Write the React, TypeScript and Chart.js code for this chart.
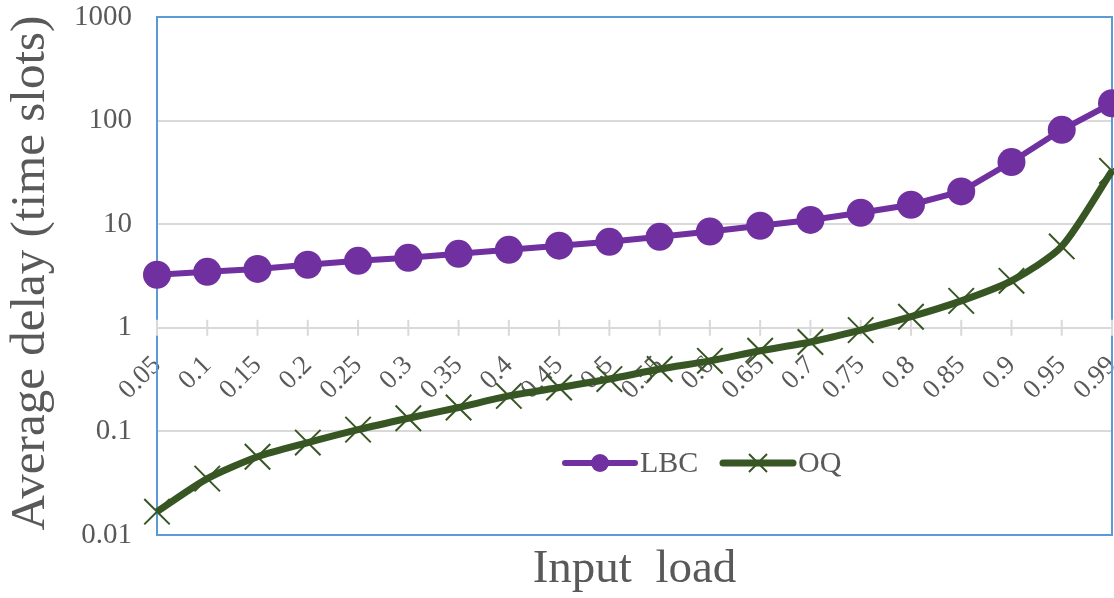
import React, { useEffect, useRef } from "react";
import { Chart, registerables } from "chart.js";

Chart.register(...registerables);

const categories = ["0.05", "0.1", "0.15", "0.2", "0.25", "0.3", "0.35", "0.4", "0.45", "0.5", "0.55", "0.6", "0.65", "0.7", "0.75", "0.8", "0.85", "0.9", "0.95", "0.99"];
const lbcValues = [3.25, 3.47, 3.7, 4.06, 4.43, 4.74, 5.18, 5.66, 6.2, 6.76, 7.56, 8.5, 9.66, 11.0, 12.9, 15.4, 20.7, 39.8, 81.5, 147];
const oqValues = [0.0168, 0.035, 0.057, 0.078, 0.104, 0.134, 0.17, 0.22, 0.265, 0.32, 0.4, 0.48, 0.6, 0.73, 0.95, 1.28, 1.82, 2.84, 6.1, 32.7];
const yTickValues = [0.01, 0.1, 1, 10, 100, 1000];

const FONT = "'Liberation Serif', 'Times New Roman', serif";
const TEXT = "#595959";
const GRID = "#D9D9D9";
const FRAME = "#5B9BD5";
const PURPLE = "#7030A0";
const GREEN = "#375623";

const noPadding = () => ({ left: 0, top: 0, right: 0, bottom: 0 });

const decorPlugin = {
  id: "decor",
  beforeDatasetsDraw(chart: any) {
    const { ctx, chartArea } = chart;
    const x = chart.scales.x;
    const y = chart.scales.y;
    ctx.save();
    ctx.strokeStyle = FRAME;
    ctx.lineWidth = 2;
    ctx.strokeRect(chartArea.left, chartArea.top, chartArea.right - chartArea.left, chartArea.bottom - chartArea.top);
    const ay = y.getPixelForValue(1);
    ctx.strokeStyle = GRID;
    ctx.lineWidth = 2;
    for (let i = 0; i < categories.length; i++) {
      const px = x.getPixelForValue(i);
      ctx.beginPath();
      ctx.moveTo(px, ay - 8);
      ctx.lineTo(px, ay + 8);
      ctx.stroke();
    }
    ctx.restore();
  },
  afterDraw(chart: any) {
    const { ctx, chartArea } = chart;
    ctx.save();
    ctx.fillStyle = TEXT;
    ctx.textAlign = "center";
    ctx.textBaseline = "middle";
    ctx.font = `47px ${FONT}`;
    ctx.fillText("Input  load", (chartArea.left + chartArea.right) / 2, 570);
    ctx.save();
    ctx.font = `49px ${FONT}`;
    ctx.translate(31, 273);
    ctx.rotate(-Math.PI / 2);
    ctx.fillText("Average delay (time slots)", 0, 0);
    ctx.restore();

    const items = [
      { x: 565, ds: chart.data.datasets[0] },
      { x: 723, ds: chart.data.datasets[1] },
    ];
    const ly = 463;
    ctx.font = `30px ${FONT}`;
    ctx.textAlign = "left";
    for (const it of items) {
      const ds = it.ds;
      ctx.strokeStyle = ds.borderColor;
      ctx.lineWidth = ds.borderWidth;
      ctx.lineCap = "round";
      ctx.beginPath();
      ctx.moveTo(it.x, ly);
      ctx.lineTo(it.x + 70, ly);
      ctx.stroke();
      const cx = it.x + 35;
      if (ds.pointStyle === "circle") {
        ctx.fillStyle = ds.pointBackgroundColor;
        ctx.beginPath();
        ctx.arc(cx, ly, 9, 0, Math.PI * 2);
        ctx.fill();
      } else {
        ctx.strokeStyle = ds.pointBorderColor;
        ctx.lineWidth = 2;
        ctx.lineCap = "butt";
        const r = 9;
        ctx.beginPath();
        ctx.moveTo(cx - r, ly - r);
        ctx.lineTo(cx + r, ly + r);
        ctx.moveTo(cx + r, ly - r);
        ctx.lineTo(cx - r, ly + r);
        ctx.stroke();
      }
      ctx.fillStyle = TEXT;
      ctx.fillText(ds.label, it.x + 75, ly + 1);
    }
    ctx.restore();
  },
};

export default function App() {
  const ref = useRef<HTMLCanvasElement | null>(null);
  useEffect(() => {
    if (!ref.current) return;
    const chart = new Chart(ref.current, {
      type: "line",
      data: {
        labels: categories,
        datasets: [
          {
            label: "LBC",
            data: lbcValues,
            borderColor: PURPLE,
            backgroundColor: PURPLE,
            borderWidth: 6,
            pointStyle: "circle",
            pointRadius: 14,
            pointBackgroundColor: PURPLE,
            pointBorderColor: PURPLE,
            pointBorderWidth: 0,
            tension: 0,
            clip: false,
          } as any,
          {
            label: "OQ",
            data: oqValues,
            borderColor: GREEN,
            backgroundColor: GREEN,
            borderWidth: 7,
            pointStyle: "crossRot",
            pointRadius: 18,
            pointBorderColor: GREEN,
            pointBackgroundColor: GREEN,
            pointBorderWidth: 2,
            tension: 0.25,
            clip: false,
          } as any,
        ],
      },
      options: {
        animation: false,
        responsive: false,
        maintainAspectRatio: false,
        layout: { autoPadding: false, padding: { left: 0, right: 2, top: 17, bottom: 63 } } as any,
        plugins: {
          legend: { display: false },
          tooltip: { enabled: false },
        },
        scales: {
          x: {
            type: "category",
            position: { y: 1 } as any,
            offset: false,
            grid: { display: false, drawTicks: false },
            border: { display: false },
            ticks: {
              autoSkip: false,
              minRotation: 45,
              maxRotation: 45,
              padding: 22,
              color: TEXT,
              font: { family: FONT, size: 27 },
            },
            afterFit: (s: any) => {
              s.height = 0;
              s.paddingLeft = 0;
              s.paddingRight = 0;
              s.getPadding = noPadding;
            },
          },
          y: {
            type: "logarithmic",
            min: 0.01,
            max: 1000,
            grid: { color: GRID, lineWidth: 2, drawTicks: false },
            border: { display: false },
            ticks: {
              padding: 25,
              color: TEXT,
              font: { family: FONT, size: 29 },
              callback: (v: any) => String(v),
            },
            afterBuildTicks: (s: any) => {
              s.ticks = yTickValues.map((v) => ({ value: v, major: true }));
            },
            afterFit: (s: any) => {
              s.width = 157;
              s.paddingTop = 0;
              s.paddingBottom = 0;
              s.getPadding = noPadding;
            },
          },
        },
      },
      plugins: [decorPlugin],
    });
    return () => chart.destroy();
  }, []);
  return (
    <div style={{ position: "fixed", left: 0, top: 0, width: 1114, height: 598, background: "#fff" }}>
      <canvas ref={ref} width={1114} height={598} style={{ display: "block" }} />
    </div>
  );
}
